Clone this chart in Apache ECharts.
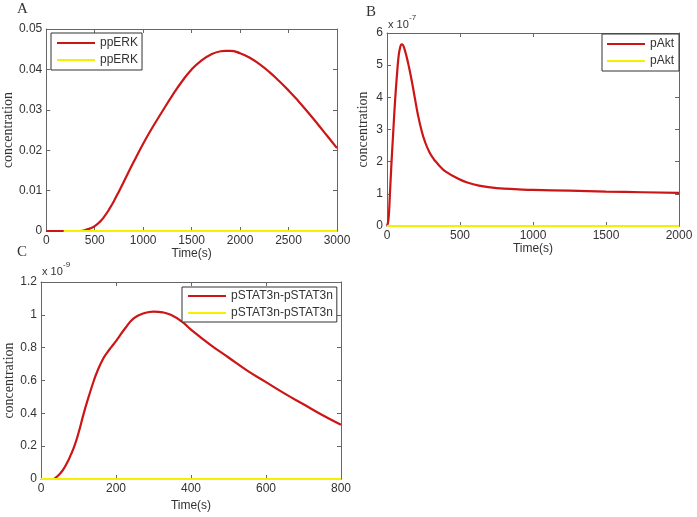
<!DOCTYPE html>
<html>
<head>
<meta charset="utf-8">
<script src="https://cdn.jsdelivr.net/npm/echarts@6/dist/echarts.min.js"></script>
<style>html,body{margin:0;padding:0;background:#fff;}#c{width:697px;height:517px;}</style>
</head>
<body>
<div id="c"></div>
<script>
// Panel A: ppERK
const timeA = [0,350,400,450,500,550,600,650,700,750,800,900,1000,1100,1200,1300,1400,1500,1600,1700,1800,1850,1900,2000,2100,2200,2300,2400,2500,2600,2700,2800,2900,3000];
const ppERK = [0,0,0.0002,0.0006,0.0012,0.0022,0.0036,0.0054,0.0075,0.0098,0.0122,0.0170,0.0216,0.0258,0.0297,0.0335,0.0370,0.0400,0.0422,0.0437,0.0445,0.0446,0.0446,0.0440,0.0429,0.0413,0.0394,0.0372,0.0348,0.0322,0.0294,0.0265,0.0235,0.0205];
const timeA2 = [180,3000];
const ppERK2 = [0,0];
// Panel B: pAkt (x 1e-7)
const timeB = [0,10,20,30,40,50,60,70,80,90,100,110,120,135,150,170,190,210,235,260,290,320,338,370,400,475,550,650,750,900,1000,1250,1500,1750,2000];
const pAkt = [0,0.2,1.0,1.9,2.7,3.5,4.2,4.8,5.3,5.55,5.65,5.62,5.5,5.25,4.95,4.5,4.0,3.5,3.0,2.62,2.3,2.08,1.98,1.82,1.70,1.5,1.35,1.24,1.18,1.14,1.12,1.1,1.07,1.05,1.03];
const timeB2 = [0,2000];
const pAkt2 = [0,0];
// Panel C: pSTAT3n-pSTAT3n (x 1e-9)
const timeC = [35,50,60,70,80,89,100,114,127,141,150,164,175,188,200,225,248,275,300,325,346,375,400,450,500,550,600,650,700,750,800];
const pSTAT = [0,0.03,0.06,0.1,0.15,0.2,0.28,0.4,0.5,0.6,0.655,0.725,0.765,0.805,0.84,0.92,0.98,1.01,1.02,1.015,1.0,0.96,0.91,0.82,0.74,0.66,0.59,0.52,0.455,0.39,0.33];
const timeC2 = [0,800];
const pSTAT2 = [0,0];

const xTicks = [{min:0,max:3000,interval:500},{min:0,max:2000,interval:500},{min:0,max:800,interval:200}];
const yTicks = [{min:0,max:0.05,interval:0.01},{min:0,max:6,interval:1},{min:0,max:1.2,interval:0.2}];
const names = [['ppERK','ppERK '],['pAkt','pAkt '],['pSTAT3n-pSTAT3n','pSTAT3n-pSTAT3n ']];

const zip = (a,b) => a.map((v,i)=>[v,b[i]]);
const RED = '#cc1616', YEL = '#f4f000', AX = '#666', TX = '#333';
const SANS = 'Liberation Sans, Arial, sans-serif';
const SERIF = 'Liberation Serif, Times New Roman, serif';

const grids = [
  {left:46, top:29, width:291, height:202},
  {left:387, top:33, width:292, height:193},
  {left:41, top:282, width:300, height:197}
];
const xNameGap = [15,14,21];
const yNameGap = [28,17,22];
const fmt = v => String(Math.round(v*1e6)/1e6);

const xAxis = [], yAxis = [];
for (let i=0;i<3;i++){
  xAxis.push({type:'value', gridIndex:i, ...xTicks[i], position:'bottom',
    name:'Time(s)', nameLocation:'middle', nameGap:xNameGap[i],
    nameTextStyle:{fontFamily:SANS,fontSize:12,color:TX},
    axisLine:{show:true,onZero:false,lineStyle:{color:AX,width:1}},
    axisTick:{show:true,inside:true,length:4,lineStyle:{color:AX}},
    axisLabel:{fontFamily:SANS,fontSize:12,color:TX,margin:4,formatter:fmt},
    splitLine:{show:false}});
  yAxis.push({type:'value', gridIndex:i, ...yTicks[i], position:'left',
    name:'concentration', nameLocation:'middle', nameGap:yNameGap[i],
    nameTextStyle:{fontFamily:SERIF,fontSize:14,color:TX},
    axisLine:{show:true,onZero:false,lineStyle:{color:AX,width:1}},
    axisTick:{show:true,inside:true,length:4,lineStyle:{color:AX}},
    axisLabel:{fontFamily:SANS,fontSize:12,color:TX,margin:4,formatter:fmt},
    splitLine:{show:false}});
}
for (let i=0;i<3;i++){
  xAxis.push({type:'value', gridIndex:i, ...xTicks[i], position:'top',
    axisLine:{show:true,onZero:false,lineStyle:{color:AX,width:1}},
    axisTick:{show:true,inside:true,length:4,lineStyle:{color:AX}},
    axisLabel:{show:false}, splitLine:{show:false}});
  yAxis.push({type:'value', gridIndex:i, ...yTicks[i], position:'right',
    axisLine:{show:true,onZero:false,lineStyle:{color:AX,width:1}},
    axisTick:{show:true,inside:true,length:4,lineStyle:{color:AX}},
    axisLabel:{show:false}, splitLine:{show:false}});
}

const redData = [zip(timeA,ppERK), zip(timeB,pAkt), zip(timeC,pSTAT)];
const yelData = [zip(timeA2,ppERK2), zip(timeB2,pAkt2), zip(timeC2,pSTAT2)];
const series = [];
for (let i=0;i<3;i++){
  series.push({type:'line', name:names[i][0], xAxisIndex:i, yAxisIndex:i, data:redData[i],
    showSymbol:false, symbol:'none', smooth:0.5, lineStyle:{color:RED,width:2.2}, itemStyle:{color:RED}, z:2});
  series.push({type:'line', name:names[i][1], xAxisIndex:i, yAxisIndex:i, data:yelData[i],
    showSymbol:false, symbol:'none', lineStyle:{color:YEL,width:2}, itemStyle:{color:YEL}, z:3});
}

const legendPos = [
  {left:51, top:33, padding:[4,4,4,6]},
  {left:602, top:34, padding:[4,5,4,5]},
  {left:182, top:287, padding:[3,4,3,6]}
];
const legend = legendPos.map((p,i)=>({
  ...p, orient:'vertical', data:names[i], icon:'rect', itemWidth:38, itemHeight:2,
  itemGap:5, itemTextGap:3, borderColor:'#333', borderWidth:1, backgroundColor:'#fff',
  selectedMode:false, formatter: n => n.trim(),
  textStyle:{fontFamily:SANS,fontSize:12,color:TX}
}));

const txt = (x,y,t,font,size) => ({type:'text', left:x, top:y, style:{text:t, font: size+'px '+font, fill:TX}});
const graphic = [
  txt(17,2,'A',SERIF,15),
  txt(366,5,'B',SERIF,15),
  txt(17,245,'C',SERIF,15),
  txt(388,19,'x 10',SANS,11),
  txt(409,14,'-7',SANS,8),
  txt(42,266,'x 10',SANS,11),
  txt(63,261,'-9',SANS,8)
];

const chart = echarts.init(document.getElementById('c'));
chart.setOption({animation:false, backgroundColor:'#fff', grid:grids, xAxis, yAxis, series, legend, graphic});
</script>
</body>
</html>
